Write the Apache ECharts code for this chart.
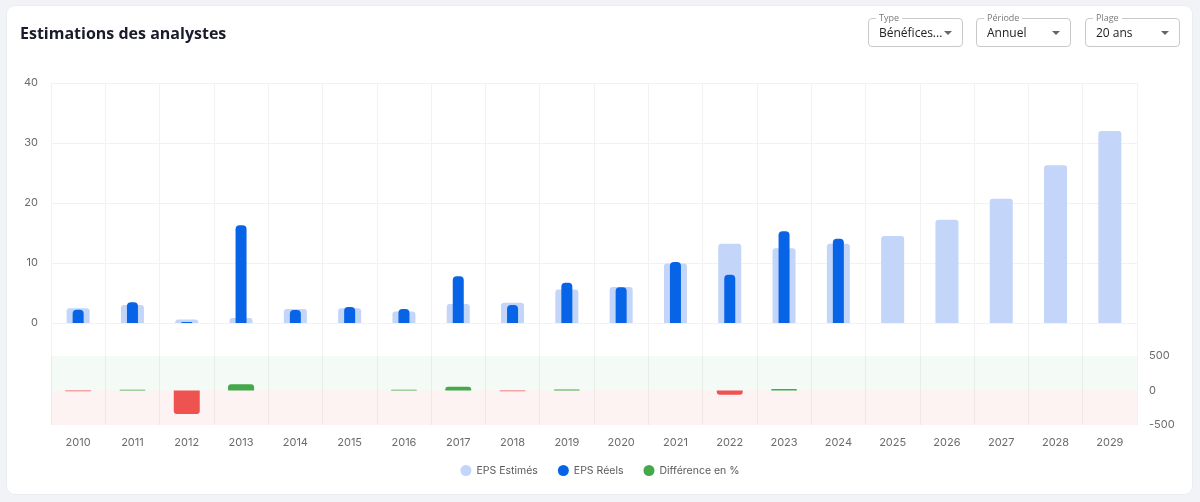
<!DOCTYPE html>
<html>
<head>
<meta charset="utf-8">
<script src="https://cdn.jsdelivr.net/npm/echarts@6/dist/echarts.min.js"></script>
<style>
  html,body{margin:0;padding:0;width:1200px;height:502px;background:#f2f3f7;overflow:hidden;font-family:"Open Sans",sans-serif;}
  #card{position:absolute;left:7px;top:6px;width:1185px;height:488px;background:#fff;border-radius:8px;box-shadow:0 0 0 1px #ebedf2;}
  #chart{position:absolute;left:0;top:0;width:1200px;height:502px;}
  .sel{position:absolute;top:18px;height:29px;width:95px;box-sizing:border-box;border:1px solid #c9c9c9;border-radius:4px;background:#fff;z-index:5;}
  .sel .lab{position:absolute;top:-7px;left:7px;padding:0 3px;background:#fff;font-size:9px;color:#7a7a7a;line-height:12px;}
  .sel .val{position:absolute;left:10px;top:5px;font-size:12px;color:#222;line-height:18px;}
  .sel .arr{position:absolute;right:10px;top:12px;width:0;height:0;border-left:4.5px solid transparent;border-right:4.5px solid transparent;border-top:4.5px solid #666;}
</style>
</head>
<body>
<div id="card"></div>
<div id="chart"></div>
<div class="sel" style="left:868px"><span class="lab">Type</span><span class="val">Bénéfices...</span><span class="arr"></span></div>
<div class="sel" style="left:976px"><span class="lab">Période</span><span class="val">Annuel</span><span class="arr"></span></div>
<div class="sel" style="left:1085px"><span class="lab">Plage</span><span class="val">20 ans</span><span class="arr"></span></div>
<script>
const years = ['2010','2011','2012','2013','2014','2015','2016','2017','2018','2019','2020','2021','2022','2023','2024','2025','2026','2027','2028','2029'];
const epsEstimes = [2.45,3.0,0.6,0.83,2.33,2.45,1.9,3.17,3.39,5.6,6.0,9.9,13.2,12.44,13.2,14.5,17.2,20.7,26.3,32.0];
const epsReels = [2.2,3.45,0.15,16.3,2.17,2.67,2.33,7.78,3.0,6.72,5.94,10.17,8.06,15.28,14.06,null,null,null,null,null];
const differencePct = [-10,12,-340,90,0,0,10,55,-10,15,0,0,-63,20,0,null,null,null,null,null];
const topTicks = [0,10,20,30,40];
const bottomTicks = [-500,0,500];

const GREEN = '#45a84a', RED = '#ef5350', LIGHT = '#c3d5f8', DARK = '#0764e6';
const labelFont = {fontFamily:'Inter, sans-serif', fontSize:11, color:'#6b6b6b'};

const chart = echarts.init(document.getElementById('chart'), null, {renderer:'canvas'});
chart.setOption({
  animation:false,
  title:{text:'Estimations des analystes', left:15, top:21,
    textStyle:{fontFamily:'"Open Sans", sans-serif', fontSize:16, fontWeight:'bold', color:'#1a1c2b'}},
  legend:{bottom:21, left:'center', icon:'circle', itemWidth:11, itemHeight:11, itemGap:20,
    textStyle:{fontFamily:'Inter, sans-serif', fontSize:10.5, color:'#5a5a5a'},
    data:[{name:'EPS Estimés', itemStyle:{color:LIGHT}},{name:'EPS Réels', itemStyle:{color:DARK}},{name:'Différence en %', itemStyle:{color:GREEN}}]},
  grid:[
    {left:51, right:63, top:83, height:240},
    {left:51, right:63, top:356, height:69},
    {left:51, right:63, top:83, height:342}
  ],
  xAxis:[
    {type:'category', gridIndex:0, data:years, axisLine:{show:false}, axisTick:{show:false}, axisLabel:{show:false}, splitLine:{show:false}},
    {type:'category', gridIndex:0, data:years, show:false},
    {type:'category', gridIndex:1, data:years, axisLine:{show:false}, axisTick:{show:false},
      axisLabel:Object.assign({margin:12}, labelFont), splitLine:{show:false}},
    {type:'category', gridIndex:2, data:years, axisLine:{show:false}, axisTick:{show:false}, axisLabel:{show:false},
      splitLine:{show:true, lineStyle:{color:'#f1f2f4', width:1}}}
  ],
  yAxis:[
    {type:'value', gridIndex:0, min:topTicks[0], max:topTicks[topTicks.length-1], interval:10,
      axisLine:{show:false}, axisTick:{show:false}, axisLabel:Object.assign({margin:13}, labelFont),
      splitLine:{lineStyle:{color:'#f1f2f4'}}},
    {type:'value', gridIndex:1, position:'right', min:bottomTicks[0], max:bottomTicks[bottomTicks.length-1], interval:500,
      axisLine:{show:false}, axisTick:{show:false}, axisLabel:Object.assign({margin:12}, labelFont),
      splitLine:{show:false}},
    {type:'value', gridIndex:2, show:false, min:0, max:1}
  ],
  series:[
    {name:'EPS Estimés', type:'bar', xAxisIndex:0, yAxisIndex:0, data:epsEstimes, barWidth:23, z:2,
      itemStyle:{color:LIGHT, borderRadius:[3,3,0,0]}},
    {name:'EPS Réels', type:'bar', xAxisIndex:1, yAxisIndex:0, data:epsReels, barWidth:11, z:3,
      itemStyle:{color:DARK, borderRadius:[4,4,0,0]}},
    {name:'Différence en %', type:'bar', xAxisIndex:2, yAxisIndex:1, barWidth:26, z:3,
      data:differencePct.map(v => v == null ? null : {value:v, itemStyle:{color: v >= 0 ? GREEN : RED, borderRadius: v >= 0 ? [3,3,0,0] : [0,0,3,3]}}),
      itemStyle:{color:GREEN},
      markArea:{silent:true, data:[
        [{yAxis:0, itemStyle:{color:'rgba(76,175,80,0.06)'}},{yAxis:500}],
        [{yAxis:-500, itemStyle:{color:'rgba(239,83,80,0.07)'}},{yAxis:0}]
      ]}}
  ]
});
</script>
</body>
</html>
